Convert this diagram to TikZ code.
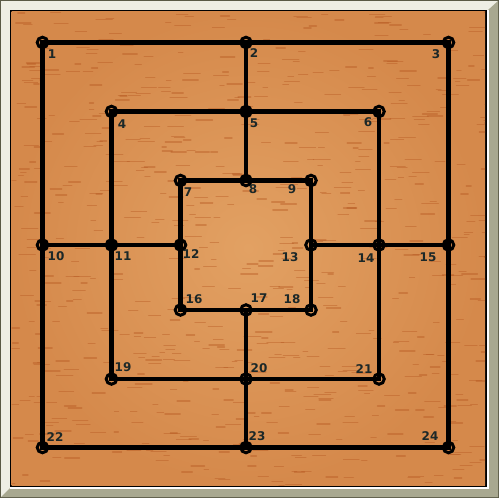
\documentclass[tikz,border=0pt]{standalone}
\usepackage{fontspec}
\setmainfont{DejaVu Sans}
\definecolor{woodlight}{HTML}{E2A163}
\definecolor{wooddark}{HTML}{D5894B}
\definecolor{streakc}{HTML}{B5561F}
\definecolor{frameout}{HTML}{5A5A46}
\definecolor{framelight}{HTML}{EEEEE4}
\definecolor{frameshade}{HTML}{A8A890}
\definecolor{labelc}{HTML}{1C2828}
\tikzset{
  pt/.style={circle,draw=black,line width=3pt,minimum size=10.5pt,inner sep=0pt},
  board/.style={line width=4.5pt,draw=black},
  lbl/.style={font=\bfseries\fontsize{12}{14}\selectfont,text=labelc,inner sep=0pt,anchor=center},
  streak/.style={draw=streakc,line width=1.3pt,line cap=round,opacity=0.4}
}
\begin{document}
\begin{tikzpicture}[x=1pt,y=-1pt]
\useasboundingbox (0,0) rectangle (499,498);
% frame
\fill[frameout] (0,0) rectangle (499,498);
\fill[framelight] (1,1) rectangle (498,497);
\fill[frameshade] (498,1) -- (498,497) -- (1,497) -- (10,488) -- (488,488) -- (488,10) -- cycle;
\fill[white] (10,10) rectangle (488.5,488.5);
\fill[black] (10,10) rectangle (486.5,486.5);
% wood
\shade[inner color=woodlight,outer color=wooddark] (11.5,11.5) rectangle (485,485);
\begin{scope}
\clip (11.5,11.5) rectangle (485,485);
\pgfmathsetseed{12345}
\foreach \i in {1,...,700}{
  \pgfmathsetmacro\sx{4+rnd*484}
  \pgfmathsetmacro\sy{12+rnd*474}
  \pgfmathsetmacro\sl{4+rnd*13}
  \draw[streak] (\sx,\sy) -- ++(\sl,0);
}
\end{scope}
% points
\node[pt] (p1) at (42.5,42.5) {};
\node[pt] (p2) at (246,42.5) {};
\node[pt] (p3) at (448.5,42.5) {};
\node[pt] (p4) at (111.5,111.5) {};
\node[pt] (p5) at (246,111.5) {};
\node[pt] (p6) at (379,111.5) {};
\node[pt] (p7) at (180.5,180.5) {};
\node[pt] (p8) at (246,180.5) {};
\node[pt] (p9) at (311,180.5) {};
\node[pt] (p10) at (42.5,245) {};
\node[pt] (p11) at (111.5,245) {};
\node[pt] (p12) at (180.5,245) {};
\node[pt] (p13) at (311,245) {};
\node[pt] (p14) at (379,245) {};
\node[pt] (p15) at (448.5,245) {};
\node[pt] (p16) at (180.5,310) {};
\node[pt] (p17) at (246,310) {};
\node[pt] (p18) at (311,310) {};
\node[pt] (p19) at (111.5,379) {};
\node[pt] (p20) at (246,379) {};
\node[pt] (p21) at (379,379) {};
\node[pt] (p22) at (42.5,447.5) {};
\node[pt] (p23) at (246,447.5) {};
\node[pt] (p24) at (448.5,447.5) {};
% lines
\draw[board] (p1.center) -- (p3.center) -- (p24.center) -- (p22.center) -- cycle;
\draw[board] (p4.center) -- (p6.center) -- (p21.center) -- (p19.center) -- cycle;
\draw[board] (p7.center) -- (p9.center) -- (p18.center) -- (p16.center) -- cycle;
\draw[board] (p2.center) -- (p8.center);
\draw[board] (p17.center) -- (p23.center);
\draw[board] (p10.center) -- (p12.center);
\draw[board] (p13.center) -- (p15.center);
% labels
\node[lbl] (l1) at (52,54) {1};
\node[lbl] (l2) at (254,53) {2};
\node[lbl] (l3) at (436,54) {3};
\node[lbl] (l4) at (122,124) {4};
\node[lbl] (l5) at (254,123) {5};
\node[lbl] (l6) at (368,122) {6};
\node[lbl] (l7) at (188,192) {7};
\node[lbl] (l8) at (253,189) {8};
\node[lbl] (l9) at (292,189) {9};
\node[lbl] (l10) at (56,256) {10};
\node[lbl] (l11) at (123,256) {11};
\node[lbl] (l12) at (191,254) {12};
\node[lbl] (l13) at (290,257) {13};
\node[lbl] (l14) at (366,258) {14};
\node[lbl] (l15) at (428,257) {15};
\node[lbl] (l16) at (194,299) {16};
\node[lbl] (l17) at (259,298) {17};
\node[lbl] (l18) at (292,299) {18};
\node[lbl] (l19) at (123,367) {19};
\node[lbl] (l20) at (259,368) {20};
\node[lbl] (l21) at (364,369) {21};
\node[lbl] (l22) at (55,437) {22};
\node[lbl] (l23) at (257,436) {23};
\node[lbl] (l24) at (430,436) {24};
\end{tikzpicture}
\end{document}
